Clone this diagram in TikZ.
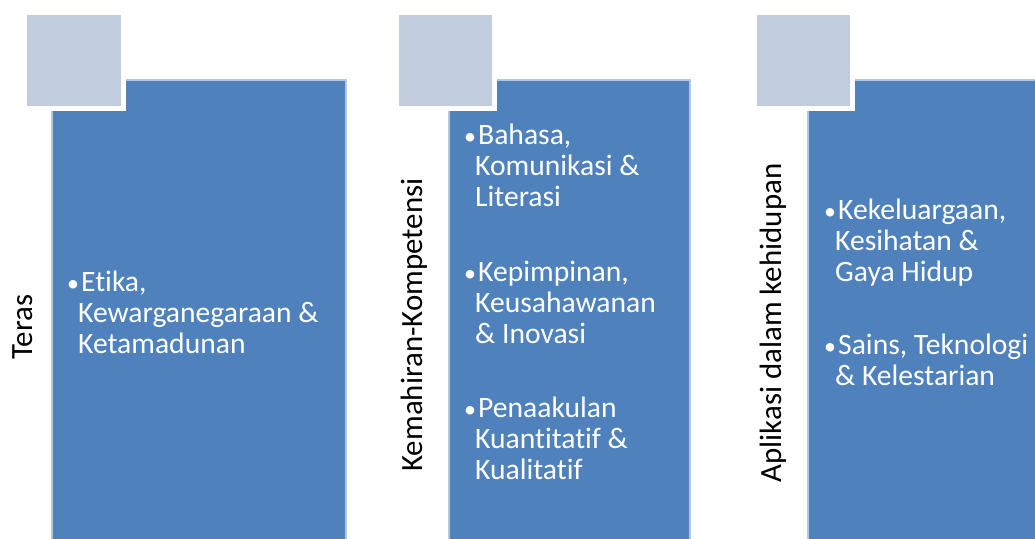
\documentclass[tikz,border=0pt]{standalone}
\usepackage{fontspec}
\setmainfont{Carlito}[Ligatures={NoCommon}]
\definecolor{boxblue}{HTML}{4F81BD}
\definecolor{boxedge}{HTML}{B3C6E2}
\definecolor{sqblue}{HTML}{C1CCDF}
\newcommand{\bodyfont}{\fontsize{29.6}{31}\selectfont}
\newcommand{\labfont}{\fontsize{30.9}{34}\selectfont}
\newcommand{\bitem}[1]{\parbox[t]{330pt}{\raggedright\let\\\newline\hangindent=11pt\hangafter=1 \makebox[14pt][l]{\fontsize{24}{24}\selectfont •}#1}}
\begin{document}
\begin{tikzpicture}[x=1pt,y=-1pt,
  mainbox/.style={fill=boxblue,draw=boxedge,line width=1.2pt},
  sqhalo/.style={fill=white},
  sqbox/.style={fill=sqblue},
  lab/.style={rotate=90,inner sep=0pt,font=\labfont,text=black},
  itm/.style={anchor=base west,inner sep=0pt,font=\bodyfont,text=white}]
\useasboundingbox (0,0) rectangle (1035,538);
\fill[white] (0,0) rectangle (1035,538);
% column 1
\draw[mainbox] (52,80) rectangle (346,545);
\fill[sqhalo] (22,10) rectangle (126,111);
\fill[sqbox] (27,15) rectangle (121,106);
\node[lab] (l1) at (23,327) {Teras};
\node[itm] (a1) at (67,291) {\bitem{Etika,\\Kewarganegaraan \&\\Ketamadunan}};
% column 2
\draw[mainbox] (449,80) rectangle (690,545);
\fill[sqhalo] (394,10) rectangle (497,111);
\fill[sqbox] (399,15) rectangle (492,106);
\node[lab] (l2) at (414,325) {Kemahiran-Kompetensi};
\node[itm] (b1) at (464,144) {\bitem{Bahasa,\\Komunikasi \&\\Literasi}};
\node[itm] (b2) at (464,281) {\bitem{Kepimpinan,\\Keusahawanan\\\& Inovasi}};
\node[itm] (b3) at (464,417) {\bitem{Penaakulan\\Kuantitatif \&\\Kualitatif}};
% column 3
\draw[mainbox] (808,80) rectangle (1045,545);
\fill[sqhalo] (752,10) rectangle (855,111);
\fill[sqbox] (757,15) rectangle (850,106);
\node[lab] (l3) at (773,323) {Aplikasi dalam kehidupan};
\node[itm] (c1) at (824,219) {\bitem{Kekeluargaan,\\Kesihatan \&\\Gaya Hidup}};
\node[itm] (c2) at (824,354) {\bitem{Sains, Teknologi\\\& Kelestarian}};
\end{tikzpicture}
\end{document}
